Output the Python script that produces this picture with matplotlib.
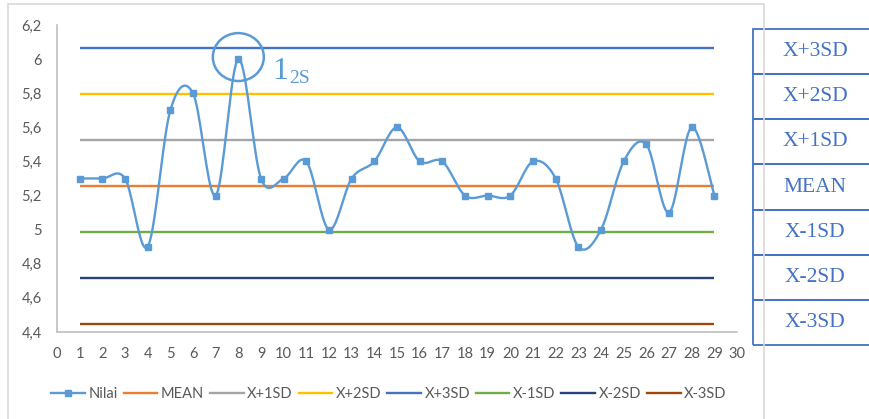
import numpy as np
import matplotlib
matplotlib.use("Agg")
import matplotlib.pyplot as plt
from matplotlib.patches import Ellipse, Rectangle
from matplotlib.lines import Line2D

# daily control values
runs = list(range(1, 30))
nilai = [5.3, 5.3, 5.3, 4.9, 5.7, 5.8, 5.2, 6.0, 5.3, 5.3, 5.4, 5.0, 5.3, 5.4, 5.6,
         5.4, 5.4, 5.2, 5.2, 5.2, 5.4, 5.3, 4.9, 5.0, 5.4, 5.5, 5.1, 5.6, 5.2]

# control limits
limit_names = ["MEAN", "X+1SD", "X+2SD", "X+3SD", "X-1SD", "X-2SD", "X-3SD"]
limit_values = [5.256, 5.525, 5.794, 6.063, 4.987, 4.718, 4.449]
limit_colors = ["#ED7D31", "#A5A5A5", "#FFC000", "#4472C4", "#70AD47", "#264478", "#9E480E"]

table_rows = ["X+3SD", "X+2SD", "X+1SD", "MEAN", "X-1SD", "X-2SD", "X-3SD"]

W, H = 870, 419
plt.rcParams["font.family"] = ["Lato", "DejaVu Sans"]
fig = plt.figure(figsize=(W / 100, H / 100), dpi=100)

# chart frame
fig.patches.append(Rectangle((8 / W, -0.1), (764 - 8) / W, 1.1 - 4 / H,
                             transform=fig.transFigure, fill=False,
                             edgecolor="#D9D9D9", lw=1.2))

ax = fig.add_axes([57 / W, 1 - 332 / H, (737 - 57) / W, (332 - 25) / H])


def smooth(xs, ys, n=20):
    # Catmull-Rom style bezier smoothing through the points
    xs = np.asarray(xs, float)
    ys = np.asarray(ys, float)
    px = np.concatenate([[xs[0]], xs, [xs[-1]]])
    py = np.concatenate([[ys[0]], ys, [ys[-1]]])
    outx, outy = [], []
    t = np.linspace(0, 1, n)
    for i in range(1, len(px) - 2):
        p0 = np.array([px[i - 1], py[i - 1]])
        p1 = np.array([px[i], py[i]])
        p2 = np.array([px[i + 1], py[i + 1]])
        p3 = np.array([px[i + 2], py[i + 2]])
        c1 = p1 + (p2 - p0) / 6
        c2 = p2 - (p3 - p1) / 6
        pts = ((1 - t)[:, None] ** 3 * p1 + 3 * ((1 - t) ** 2 * t)[:, None] * c1
               + 3 * ((1 - t) * t ** 2)[:, None] * c2 + (t ** 3)[:, None] * p2)
        outx.extend(pts[:, 0])
        outy.extend(pts[:, 1])
    return outx, outy


handles = []
for name, val, col in zip(limit_names, limit_values, limit_colors):
    ax.plot([runs[0], runs[-1]], [val, val], color=col, lw=1.7, solid_capstyle="butt")
    handles.append(Line2D([], [], color=col, lw=1.7, label=name))

sx, sy = smooth(runs, nilai)
ax.plot(sx, sy, color="#5B9BD5", lw=1.7, zorder=5)
ax.plot(runs, nilai, ls="none", marker="s", ms=4, color="#5B9BD5", zorder=6)
handles.insert(0, Line2D([], [], color="#5B9BD5", lw=1.7, marker="s", ms=4, label="Nilai"))

ax.set_xlim(0, 30)
ax.set_ylim(4.4, 6.2)
ax.set_xticks(range(0, 31))
yt = np.round(np.arange(4.4, 6.21, 0.2), 1)
ax.set_yticks(yt)
ax.set_yticklabels([("%g" % v).replace(".", ",") for v in yt])
ax.tick_params(length=0, labelsize=10.5, labelcolor="#595959")
ax.tick_params(axis="x", pad=11)
ax.tick_params(axis="y", pad=11)
for s in ["top", "right"]:
    ax.spines[s].set_visible(False)
for s in ["left", "bottom"]:
    ax.spines[s].set_color("#BFBFBF")
    ax.spines[s].set_linewidth(1.2)

# 1_2s rule violation marker
ax.add_patch(Ellipse((8, 6.012), 2.25, 0.281, fill=False, edgecolor="#5B9BD5",
                     lw=1.8, clip_on=False, zorder=7))
fig.text(272 / W, 1 - 79 / H, "1", fontsize=23, color="#5B9BD5",
         family="Liberation Serif", va="baseline", ha="left")
fig.text(289 / W, 1 - 83 / H, "2S", fontsize=14, color="#5B9BD5",
         family="Liberation Serif", va="baseline", ha="left")

fig.legend(handles=handles, loc="center", bbox_to_anchor=(389 / W, 1 - 394 / H),
           ncol=8, frameon=False, fontsize=10.5, handlelength=2.3,
           handletextpad=0.25, columnspacing=0.4, labelcolor="#595959")

# limits table on the right
tab = fig.add_axes([753 / W, 1 - 345 / H, 124 / W, (345 - 29) / H])
tab.set_xlim(0, 1)
tab.set_ylim(0, len(table_rows))
tab.axis("off")
for i, name in enumerate(table_rows):
    y0 = len(table_rows) - 1 - i
    tab.add_patch(Rectangle((0, y0), 1, 1, fill=False, edgecolor="#4472C4", lw=1.3,
                            clip_on=False))
    tab.text(0.5, y0 + 0.5, name, ha="center", va="center", fontsize=15.5,
             color="#4472C4", family="Liberation Serif")

fig.savefig("out.png", dpi=100)
